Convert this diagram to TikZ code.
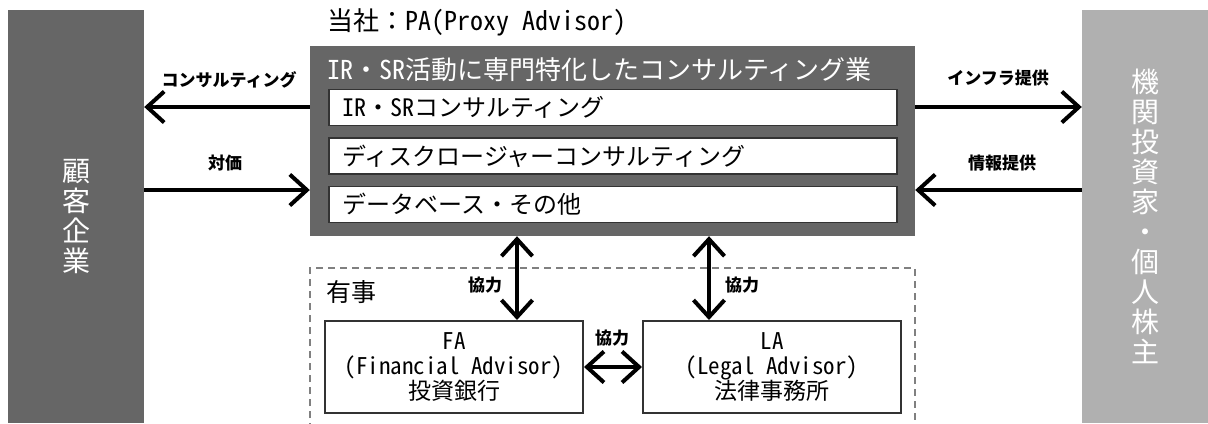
\documentclass[tikz,border=0pt]{standalone}
\usepackage{fontspec}
\setmainfont{Noto Sans CJK JP}
\newfontfamily\hw{Noto Sans CJK JP}[RawFeature=+hwid]
\usetikzlibrary{arrows.meta}
\definecolor{darkbox}{HTML}{666666}
\definecolor{lightbox}{HTML}{B0B0B0}
\definecolor{edge}{HTML}{333333}
\tikzset{
  sidebox/.style={draw=none, minimum width=136bp, minimum height=413bp, inner sep=0pt,
    text=white, font=\fontsize{28bp}{30bp}\selectfont, align=center},
  svcbox/.style={draw=edge, line width=1.5bp, fill=white, minimum width=568bp, minimum height=36bp,
    inner sep=0pt, font=\fontsize{24bp}{25bp}\selectfont},
  advbox/.style={draw=edge, line width=2bp, fill=white, minimum width=258bp, minimum height=92bp,
    inner sep=0pt, align=center, font=\fontsize{23bp}{25bp}\selectfont},
  flow/.style={line width=4bp, -{Straight Barb[length=17bp, width=31bp]}},
  biflow/.style={line width=4bp, {Straight Barb[length=17bp, width=31bp]}-{Straight Barb[length=17bp, width=31bp]}},
  lbl/.style={font=\fontsize{17bp}{18bp}\selectfont\bfseries, inner sep=0pt},
}
\begin{document}
\begin{tikzpicture}[x=1bp, y=-1bp]
\useasboundingbox (0,0) rectangle (1208,423);
% side boxes
\node[sidebox, fill=darkbox] (cl) at (76,216.5) {顧\\客\\企\\業};
\node[sidebox, fill=lightbox, minimum width=126bp] (inv) at (1145,216.5) {機\\関\\投\\資\\家\\・\\個\\人\\株\\主};
% main box
\node[fill=darkbox, minimum width=605bp, minimum height=190bp, inner sep=0pt] (pa) at (612.5,141) {};
\node[anchor=west, inner sep=0pt, font=\fontsize{26bp}{27bp}\selectfont] (title) at (327,22) {当社：{\hw PA(Proxy Advisor)}};
\node[anchor=west, inner sep=0pt, text=white, font=\fontsize{26bp}{27bp}\selectfont] (head) at (327,70) {{\hw IR}・{\hw SR}活動に専門特化したコンサルティング業};
\node[svcbox] (b1) at (613,107.5) {};
\node[svcbox] (b2) at (613,156) {};
\node[svcbox] (b3) at (613,204.5) {};
\node[anchor=west, inner sep=0pt, font=\fontsize{24bp}{25bp}\selectfont] (t1) at (342,107.5) {{\hw IR}・{\hw SR}コンサルティング};
\node[anchor=west, inner sep=0pt, font=\fontsize{24bp}{25bp}\selectfont] (t2) at (342,156) {ディスクロージャーコンサルティング};
\node[anchor=west, inner sep=0pt, font=\fontsize{24bp}{25bp}\selectfont] (t3) at (342,204.5) {データベース・その他};
% contingency area
\draw[dashed, draw=gray, line width=1.5bp, dash pattern=on 7bp off 5bp] (310,430) |- (915,268) -- (915,430);
\node[anchor=west, inner sep=0pt, font=\fontsize{25bp}{26bp}\selectfont] (yuji) at (326,292) {有事};
\node[advbox] (fa) at (454,367) {{\hw FA}\\{\hw (Financial Advisor)}\\投資銀行};
\node[advbox] (la) at (772,367) {{\hw LA}\\{\hw (Legal Advisor)}\\法律事務所};
% helper coordinates
\coordinate (ytop) at (0,107);
\coordinate (ybot) at (0,190);
\coordinate (v1) at (517,0);
\coordinate (v2) at (709,0);
% arrows left
\draw[flow] (pa.west |- ytop) -- (cl.east |- ytop);
\draw[flow] (cl.east |- ybot) -- (pa.west |- ybot);
\node[lbl] (l1) at (229,80) {コンサルティング};
\node[lbl] (l2) at (225,163) {対価};
% arrows right
\draw[flow] (pa.east |- ytop) -- (inv.west |- ytop);
\draw[flow] (inv.west |- ybot) -- (pa.east |- ybot);
\node[lbl] (l3) at (998,78) {インフラ提供};
\node[lbl] (l4) at (1002,163) {情報提供};
% vertical arrows
\draw[biflow] (pa.south -| v1) -- (fa.north -| v1);
\draw[biflow] (pa.south -| v2) -- (la.north -| v2);
\node[lbl] (l5) at (485,285) {協力};
\node[lbl] (l6) at (742,285) {協力};
% horizontal FA-LA
\draw[biflow] (fa.east) -- (la.west);
\node[lbl] (l7) at (612,338) {協力};
\end{tikzpicture}
\end{document}
